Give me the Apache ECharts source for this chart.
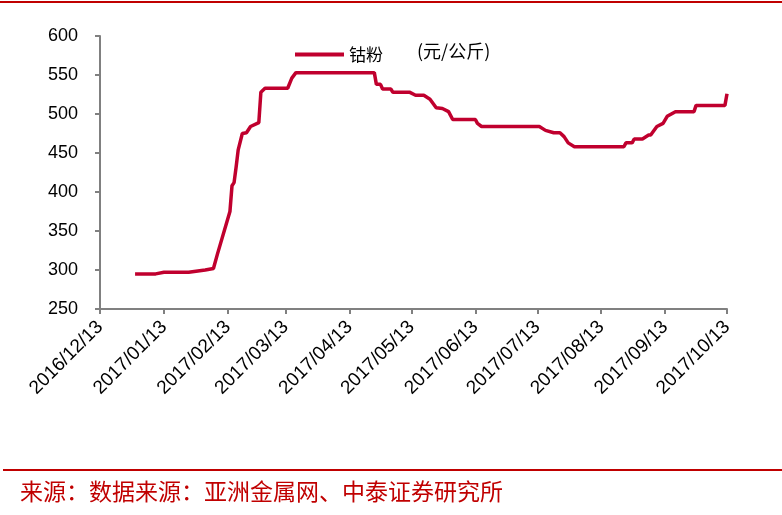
<!DOCTYPE html>
<html>
<head>
<meta charset="utf-8">
<script src="https://cdn.jsdelivr.net/npm/echarts@6/dist/echarts.min.js"></script>
<style>
html,body{margin:0;padding:0;background:#fff;}
#chart{width:782px;height:515px;}
</style>
</head>
<body>
<div id="chart"></div>
<script>
// Axis range
var startDate = '2016/12/13';
var endDate = '2017/10/13';
var yTicks = [250, 300, 350, 400, 450, 500, 550, 600];
var seriesName = '钴粉';
var unitText = '(元/公斤)';
var sourceText = '来源：数据来源：亚洲金属网、中泰证券研究所';

var pointDates = [
  '2016/12/30','2017/01/09','2017/01/13','2017/01/25','2017/02/02','2017/02/06','2017/02/08',
  '2017/02/14','2017/02/15','2017/02/16','2017/02/17','2017/02/18','2017/02/20','2017/02/22',
  '2017/02/24','2017/02/28','2017/03/01','2017/03/03','2017/03/14','2017/03/16','2017/03/18',
  '2017/04/25','2017/04/26','2017/04/28','2017/04/29','2017/05/03','2017/05/04','2017/05/12',
  '2017/05/15','2017/05/19','2017/05/22','2017/05/25','2017/05/28','2017/05/31','2017/06/02',
  '2017/06/13','2017/06/14','2017/06/16','2017/07/14','2017/07/17','2017/07/21','2017/07/24',
  '2017/07/26','2017/07/28','2017/07/31','2017/08/24','2017/08/25','2017/08/28','2017/08/29',
  '2017/09/02','2017/09/05','2017/09/06','2017/09/09','2017/09/12','2017/09/14','2017/09/18',
  '2017/09/27','2017/09/28','2017/10/12','2017/10/13'
];
var pointValues = [
  295, 295, 297, 297, 300, 302, 321,
  375, 408, 412, 432, 454, 475, 476,
  484, 489, 528, 533, 533, 546, 553,
  553, 538, 538, 532, 532, 528, 528,
  524, 524, 519, 508, 507, 503, 493,
  493, 488, 484, 484, 479, 476, 476,
  471, 463, 458, 458, 463, 463, 468,
  468, 473, 473, 484, 488, 497, 503,
  503, 511, 511, 526
];

function fmt(d){
  var m = d.getMonth()+1, day = d.getDate();
  return d.getFullYear()+'/'+(m<10?'0':'')+m+'/'+(day<10?'0':'')+day;
}
// daily category axis
var categories = [];
(function(){
  var p = startDate.split('/'), e = endDate.split('/');
  var d = new Date(+p[0], +p[1]-1, +p[2], 12);
  var end = new Date(+e[0], +e[1]-1, +e[2], 12);
  while (d <= end) { categories.push(fmt(d)); d.setDate(d.getDate()+1); }
})();
var lookup = {};
pointDates.forEach(function(dt, i){ lookup[dt] = pointValues[i]; });
var seriesData = categories.map(function(c){ return lookup.hasOwnProperty(c) ? lookup[c] : null; });

function isTickDay(v){ return /\/13$/.test(v); }

var chart = echarts.init(document.getElementById('chart'));
chart.setOption({
  animation: false,
  backgroundColor: '#fff',
  grid: { left: 100, right: 55, top: 36, bottom: 206, containLabel: false },
  legend: {
    data: [seriesName],
    left: 290, top: 41,
    icon: 'rect', itemWidth: 49, itemHeight: 4, itemGap: 5,
    textStyle: { fontFamily: '"Noto Sans CJK SC", serif', fontSize: 17, color: '#000' }
  },
  graphic: [
    { type: 'line', shape: { x1: 0, y1: 2, x2: 782, y2: 2 }, style: { stroke: '#C00000', lineWidth: 2 } },
    { type: 'line', shape: { x1: 3, y1: 470, x2: 782, y2: 470 }, style: { stroke: '#C00000', lineWidth: 2 } },
    { type: 'text', left: 417, top: 42, style: { text: unitText, font: '18px "Noto Sans CJK SC", serif', fill: '#000' } },
    { type: 'text', left: 20, top: 480, style: { text: sourceText, font: '23px "Noto Sans CJK SC", serif', fill: '#C00000' } }
  ],
  xAxis: {
    type: 'category',
    data: categories,
    boundaryGap: false,
    axisLine: { lineStyle: { color: '#808080', width: 2 } },
    axisTick: { show: true, length: 5, interval: function(i, v){ return isTickDay(v); }, lineStyle: { color: '#808080', width: 2 } },
    axisLabel: { interval: function(i, v){ return isTickDay(v); }, rotate: 45, margin: 15, fontFamily: 'Liberation Sans, Arial', fontSize: 19, color: '#000' },
    splitLine: { show: false }
  },
  yAxis: {
    type: 'value',
    min: yTicks[0], max: yTicks[yTicks.length-1], interval: 50,
    axisLine: { show: true, lineStyle: { color: '#808080', width: 2 } },
    axisTick: { show: true, length: 5, lineStyle: { color: '#808080', width: 2 } },
    axisLabel: { margin: 22, fontFamily: 'Liberation Sans, Arial', fontSize: 18, color: '#000' },
    splitLine: { show: false }
  },
  series: [{
    name: seriesName,
    type: 'line',
    data: seriesData,
    connectNulls: true,
    showSymbol: false,
    symbol: 'none',
    lineStyle: { color: '#C0002E', width: 3.5 },
    itemStyle: { color: '#C0002E' }
  }]
});
</script>
</body>
</html>
